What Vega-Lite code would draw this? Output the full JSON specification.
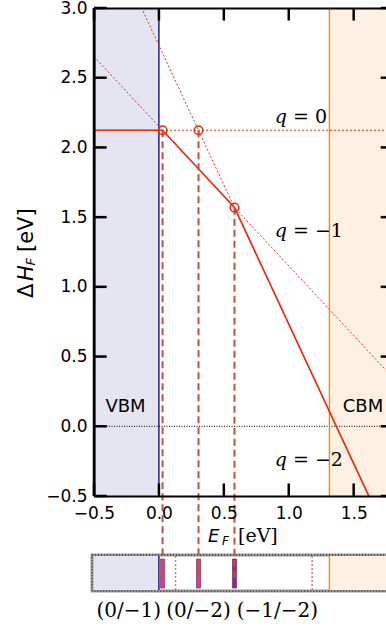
{
  "$schema": "https://vega.github.io/schema/vega-lite/v6.json",
  "autosize": {"type": "none"},
  "padding": {"left": 94, "top": 8, "right": 0, "bottom": 131},
  "width": 292,
  "height": 488,
  "background": "white",
  "config": {"view": {"stroke": null}},
  "resolve": {"scale": {"color": "independent", "fill": "independent", "stroke": "independent"}, "axis": {"x": "independent", "y": "independent"}},
  "datasets": {
    "bands": [{"edge": "VBM", "x": -0.5, "x2": 0.0}, {"edge": "CBM", "x": 1.313, "x2": 1.8}],
    "edges": [{"edge": "VBM", "Ef": 0.0}, {"edge": "CBM", "Ef": 1.313}],
    "charge": [
      {"q": "0", "Ef": -0.5, "E": 2.123}, {"q": "0", "Ef": 1.8, "E": 2.123},
      {"q": "-1", "Ef": -0.5, "E": 2.651}, {"q": "-1", "Ef": 1.8, "E": 0.351},
      {"q": "-2", "Ef": -0.5, "E": 3.732}, {"q": "-2", "Ef": 1.8, "E": -0.868}
    ],
    "envelope": [{"Ef": -0.5, "E": 2.123}, {"Ef": 0.028, "E": 2.123}, {"Ef": 0.582, "E": 1.569}, {"Ef": 1.8, "E": -0.867}],
    "transitions": [
      {"label": "(0/−1)", "Ef": 0.028, "E": 2.123},
      {"label": "(0/−2)", "Ef": 0.305, "E": 2.123},
      {"label": "(−1/−2)", "Ef": 0.582, "E": 1.568}
    ],
    "others": [{"Ef": 0.128}, {"Ef": 1.18}],
    "xticks": [{"v": -0.5}, {"v": 0}, {"v": 0.5}, {"v": 1.0}, {"v": 1.5}],
    "yticks": [{"v": -0.5}, {"v": 0}, {"v": 0.5}, {"v": 1.0}, {"v": 1.5}, {"v": 2.0}, {"v": 2.5}, {"v": 3.0}],
    "frame": [{"side": "left"}]
  },
  "layer": [
    {
      "data": {"name": "bands"},
      "mark": {"type": "rect", "clip": true},
      "encoding": {
        "x": {"field": "x", "type": "quantitative",
          "scale": {"domain": [-0.5, 1.749], "nice": false, "zero": false},
          "axis": {"orient": "bottom", "zindex": 1, "values": [-0.5, 0, 0.5, 1, 1.5], "format": ".1f", "title": null, "grid": false, "ticks": false,
            "domainColor": "black", "domainWidth": 2,
            "labelPadding": 9, "labelFont": "DejaVu Sans", "labelFontSize": 17, "labelColor": "black", "labelFlush": false, "labelOverlap": false}},
        "x2": {"field": "x2"},
        "y": {"datum": -0.5, "type": "quantitative",
          "scale": {"domain": [-0.5, 3.0], "nice": false, "zero": false},
          "axis": {"orient": "left", "zindex": 1, "values": [-0.5, 0, 0.5, 1, 1.5, 2, 2.5, 3], "format": ".1f", "title": null, "grid": false, "ticks": false,
            "domainColor": "black", "domainWidth": 2,
            "labelPadding": 7, "labelFont": "DejaVu Sans", "labelFontSize": 17, "labelColor": "black", "labelFlush": false, "labelOverlap": false}},
        "y2": {"datum": 3.0},
        "fill": {"field": "edge", "type": "nominal", "scale": {"domain": ["VBM", "CBM"], "range": ["#e5e5f1", "#fef0e2"]}, "legend": null}
      }
    },
    {
      "data": {"values": [{"level": 0}]},
      "mark": {"type": "rule", "color": "black", "strokeWidth": 1, "strokeDash": [1, 1.5], "clip": true},
      "encoding": {
        "x": {"datum": -0.5, "type": "quantitative",
          "axis": {"orient": "top", "zindex": 1, "labels": false, "ticks": false, "title": null, "grid": false,
            "domainColor": "black", "domainWidth": 2}},
        "x2": {"datum": 1.8},
        "y": {"field": "level", "type": "quantitative",
          "axis": {"orient": "right", "zindex": 1, "labels": false, "ticks": false, "title": null, "grid": false, "offset": 7,
            "domainColor": "black", "domainWidth": 2}}
      }
    },
    {
      "data": {"name": "edges"},
      "mark": {"type": "rule", "strokeWidth": 1.4, "clip": true},
      "encoding": {
        "x": {"field": "Ef", "type": "quantitative", "axis": null},
        "y": {"datum": -0.5, "type": "quantitative", "axis": null},
        "y2": {"datum": 3.0},
        "stroke": {"field": "edge", "type": "nominal", "scale": {"domain": ["VBM", "CBM"], "range": ["#10107a", "#ff8c00"]}, "legend": null}
      }
    },
    {
      "data": {"name": "charge"},
      "mark": {"type": "line", "color": "#e8321a", "strokeWidth": 1, "strokeDash": [2, 2], "clip": true},
      "encoding": {
        "x": {"field": "Ef", "type": "quantitative", "axis": null},
        "y": {"field": "E", "type": "quantitative", "axis": null},
        "detail": {"field": "q", "type": "nominal"}
      }
    },
    {
      "data": {"name": "envelope"},
      "mark": {"type": "line", "color": "#e8290b", "strokeWidth": 1.6, "clip": true},
      "encoding": {
        "x": {"field": "Ef", "type": "quantitative", "axis": null},
        "y": {"field": "E", "type": "quantitative", "axis": null}
      }
    },
    {
      "data": {"values": [{"strip": "Fermi level window"}]},
      "mark": {"type": "rect", "fill": "white", "stroke": "#9a9a9a", "strokeWidth": 3, "clip": false},
      "encoding": {
        "x": {"datum": -0.515, "type": "quantitative", "axis": null},
        "x2": {"datum": 1.9},
        "y": {"datum": -0.923, "type": "quantitative", "axis": null},
        "y2": {"datum": -1.182}
      }
    },
    {
      "data": {"name": "bands"},
      "mark": {"type": "rect", "clip": false},
      "encoding": {
        "x": {"field": "x", "type": "quantitative", "axis": null},
        "x2": {"field": "x2"},
        "y": {"datum": -0.93, "type": "quantitative", "axis": null},
        "y2": {"datum": -1.175},
        "fill": {"field": "edge", "type": "nominal", "scale": {"domain": ["VBM", "CBM"], "range": ["#e5e5f1", "#fef0e2"]}, "legend": null}
      }
    },
    {
      "data": {"values": [{"strip": "border"}]},
      "mark": {"type": "rect", "fill": null, "stroke": "black", "strokeWidth": 1, "strokeDash": [1, 2], "clip": false},
      "encoding": {
        "x": {"datum": -0.515, "type": "quantitative", "axis": null},
        "x2": {"datum": 1.9},
        "y": {"datum": -0.923, "type": "quantitative", "axis": null},
        "y2": {"datum": -1.182}
      }
    },
    {
      "data": {"name": "edges"},
      "mark": {"type": "rule", "strokeWidth": 1.4, "clip": false},
      "encoding": {
        "x": {"field": "Ef", "type": "quantitative", "axis": null},
        "y": {"datum": -0.93, "type": "quantitative", "axis": null},
        "y2": {"datum": -1.175},
        "stroke": {"field": "edge", "type": "nominal", "scale": {"domain": ["VBM", "CBM"], "range": ["#10107a", "#ff8c00"]}, "legend": null}
      }
    },
    {
      "data": {"name": "others"},
      "mark": {"type": "rule", "color": "#d47a7a", "strokeWidth": 1.5, "strokeDash": [2, 2], "clip": false},
      "encoding": {
        "x": {"field": "Ef", "type": "quantitative", "axis": null},
        "y": {"datum": -0.93, "type": "quantitative", "axis": null},
        "y2": {"datum": -1.175}
      }
    },
    {
      "data": {"name": "transitions"},
      "mark": {"type": "tick", "orient": "vertical", "size": 29, "thickness": 4, "opacity": 1, "stroke": "#6a1a50", "strokeWidth": 0.6, "clip": false},
      "encoding": {
        "x": {"field": "Ef", "type": "quantitative", "axis": null},
        "y": {"datum": -1.056, "type": "quantitative", "axis": null},
        "color": {"field": "label", "type": "nominal", "scale": {"domain": ["(0/−1)", "(0/−2)", "(−1/−2)"], "range": ["#d4448c", "#d4448c", "#8a2a7e"]}, "legend": null}
      }
    },
    {
      "data": {"name": "transitions"},
      "mark": {"type": "rule", "color": "#c4503c", "strokeWidth": 2, "strokeDash": [7, 4], "clip": false},
      "encoding": {
        "x": {"field": "Ef", "type": "quantitative", "axis": null},
        "y": {"field": "E", "type": "quantitative", "axis": null},
        "y2": {"datum": -1.088}
      }
    },
    {
      "data": {"name": "transitions"},
      "mark": {"type": "point", "filled": false, "stroke": "#e8290b", "strokeWidth": 1.5, "size": 75, "opacity": 1, "clip": false},
      "encoding": {
        "x": {"field": "Ef", "type": "quantitative", "axis": null},
        "y": {"field": "E", "type": "quantitative", "axis": null}
      }
    },
    {
      "data": {"values": [{"t": "VBM"}]},
      "mark": {"type": "text", "font": "DejaVu Sans", "fontSize": 18, "align": "center", "baseline": "alphabetic", "color": "black"},
      "encoding": {"x": {"datum": -0.257, "type": "quantitative", "axis": null}, "y": {"datum": 0.105, "type": "quantitative", "axis": null}, "text": {"field": "t"}}
    },
    {
      "data": {"values": [{"t": "CBM"}]},
      "mark": {"type": "text", "font": "DejaVu Sans", "fontSize": 18, "align": "center", "baseline": "alphabetic", "color": "black"},
      "encoding": {"x": {"datum": 1.572, "type": "quantitative", "axis": null}, "y": {"datum": 0.105, "type": "quantitative", "axis": null}, "text": {"field": "t"}}
    },
    {
      "data": {"values": [{"t": "q"}]},
      "mark": {"type": "text", "font": "DejaVu Serif", "fontSize": 19, "fontStyle": "italic", "align": "right", "baseline": "alphabetic", "color": "black"},
      "encoding": {"x": {"datum": 0.986, "type": "quantitative", "axis": null}, "y": {"datum": 2.175, "type": "quantitative", "axis": null}, "text": {"field": "t"}}
    },
    {
      "data": {"values": [{"t": "= 0"}]},
      "mark": {"type": "text", "font": "DejaVu Serif", "fontSize": 19, "align": "left", "dx": 6, "baseline": "alphabetic", "color": "black"},
      "encoding": {"x": {"datum": 0.986, "type": "quantitative", "axis": null}, "y": {"datum": 2.175, "type": "quantitative", "axis": null}, "text": {"field": "t"}}
    },
    {
      "data": {"values": [{"t": "q"}]},
      "mark": {"type": "text", "font": "DejaVu Serif", "fontSize": 19, "fontStyle": "italic", "align": "right", "baseline": "alphabetic", "color": "black"},
      "encoding": {"x": {"datum": 0.986, "type": "quantitative", "axis": null}, "y": {"datum": 1.36, "type": "quantitative", "axis": null}, "text": {"field": "t"}}
    },
    {
      "data": {"values": [{"t": "= −1"}]},
      "mark": {"type": "text", "font": "DejaVu Serif", "fontSize": 19, "align": "left", "dx": 6, "baseline": "alphabetic", "color": "black"},
      "encoding": {"x": {"datum": 0.986, "type": "quantitative", "axis": null}, "y": {"datum": 1.36, "type": "quantitative", "axis": null}, "text": {"field": "t"}}
    },
    {
      "data": {"values": [{"t": "q"}]},
      "mark": {"type": "text", "font": "DejaVu Serif", "fontSize": 19, "fontStyle": "italic", "align": "right", "baseline": "alphabetic", "color": "black"},
      "encoding": {"x": {"datum": 0.986, "type": "quantitative", "axis": null}, "y": {"datum": -0.285, "type": "quantitative", "axis": null}, "text": {"field": "t"}}
    },
    {
      "data": {"values": [{"t": "= −2"}]},
      "mark": {"type": "text", "font": "DejaVu Serif", "fontSize": 19, "align": "left", "dx": 6, "baseline": "alphabetic", "color": "black"},
      "encoding": {"x": {"datum": 0.986, "type": "quantitative", "axis": null}, "y": {"datum": -0.285, "type": "quantitative", "axis": null}, "text": {"field": "t"}}
    },
    {
      "data": {"values": [{"t": "(0/−1)"}]},
      "mark": {"type": "text", "font": "DejaVu Serif", "fontSize": 20, "align": "center", "baseline": "alphabetic", "color": "black"},
      "encoding": {"x": {"datum": -0.233, "type": "quantitative", "axis": null}, "y": {"datum": -1.368, "type": "quantitative", "axis": null}, "text": {"field": "t"}}
    },
    {
      "data": {"values": [{"t": "(0/−2)"}]},
      "mark": {"type": "text", "font": "DejaVu Serif", "fontSize": 20, "align": "center", "baseline": "alphabetic", "color": "black"},
      "encoding": {"x": {"datum": 0.305, "type": "quantitative", "axis": null}, "y": {"datum": -1.368, "type": "quantitative", "axis": null}, "text": {"field": "t"}}
    },
    {
      "data": {"values": [{"t": "(−1/−2)"}]},
      "mark": {"type": "text", "font": "DejaVu Serif", "fontSize": 20, "align": "center", "baseline": "alphabetic", "color": "black"},
      "encoding": {"x": {"datum": 0.913, "type": "quantitative", "axis": null}, "y": {"datum": -1.368, "type": "quantitative", "axis": null}, "text": {"field": "t"}}
    },
    {
      "data": {"values": [{"t": "E"}]},
      "mark": {"type": "text", "font": "DejaVu Sans", "fontSize": 18, "fontStyle": "italic", "align": "left", "baseline": "alphabetic", "color": "black"},
      "encoding": {"x": {"datum": 0.378, "type": "quantitative", "axis": null}, "y": {"datum": -0.83, "type": "quantitative", "axis": null}, "text": {"field": "t"}}
    },
    {
      "data": {"values": [{"t": "F"}]},
      "mark": {"type": "text", "font": "DejaVu Sans", "fontSize": 12, "fontStyle": "italic", "align": "left", "baseline": "alphabetic", "color": "black"},
      "encoding": {"x": {"datum": 0.486, "type": "quantitative", "axis": null}, "y": {"datum": -0.852, "type": "quantitative", "axis": null}, "text": {"field": "t"}}
    },
    {
      "data": {"values": [{"t": "[eV]"}]},
      "mark": {"type": "text", "font": "DejaVu Serif", "fontSize": 19, "align": "left", "baseline": "alphabetic", "color": "black"},
      "encoding": {"x": {"datum": 0.609, "type": "quantitative", "axis": null}, "y": {"datum": -0.83, "type": "quantitative", "axis": null}, "text": {"field": "t"}}
    },
    {
      "data": {"values": [{"t": "Δ"}]},
      "mark": {"type": "text", "font": "DejaVu Sans", "fontSize": 21, "angle": 270, "align": "left", "baseline": "alphabetic", "color": "black"},
      "encoding": {"x": {"datum": -0.97, "type": "quantitative", "axis": null}, "y": {"datum": 0.92, "type": "quantitative", "axis": null}, "text": {"field": "t"}}
    },
    {
      "data": {"values": [{"t": "H"}]},
      "mark": {"type": "text", "font": "DejaVu Sans", "fontSize": 21, "fontStyle": "italic", "angle": 270, "align": "left", "baseline": "alphabetic", "color": "black"},
      "encoding": {"x": {"datum": -0.97, "type": "quantitative", "axis": null}, "y": {"datum": 1.042, "type": "quantitative", "axis": null}, "text": {"field": "t"}}
    },
    {
      "data": {"values": [{"t": "F"}]},
      "mark": {"type": "text", "font": "DejaVu Sans", "fontSize": 13, "fontStyle": "italic", "angle": 270, "align": "left", "baseline": "alphabetic", "color": "black"},
      "encoding": {"x": {"datum": -0.951, "type": "quantitative", "axis": null}, "y": {"datum": 1.153, "type": "quantitative", "axis": null}, "text": {"field": "t"}}
    },
    {
      "data": {"values": [{"t": "[eV]"}]},
      "mark": {"type": "text", "font": "DejaVu Sans", "fontSize": 21, "angle": 270, "align": "left", "baseline": "alphabetic", "color": "black"},
      "encoding": {"x": {"datum": -0.97, "type": "quantitative", "axis": null}, "y": {"datum": 1.25, "type": "quantitative", "axis": null}, "text": {"field": "t"}}
    },
    {
      "data": {"name": "frame"},
      "mark": {"type": "rule", "color": "black", "strokeWidth": 2.5, "clip": false},
      "encoding": {
        "x": {"datum": -0.5, "type": "quantitative", "axis": null},
        "y": {"datum": -0.5, "type": "quantitative", "axis": null},
        "y2": {"datum": 3.0}
      }
    },
    {
      "data": {"name": "xticks"},
      "mark": {"type": "rule", "color": "black", "strokeWidth": 2.5, "opacity": 1, "clip": false},
      "encoding": {
        "x": {"field": "v", "type": "quantitative", "axis": null},
        "y": {"datum": -0.5, "type": "quantitative", "axis": null},
        "y2": {"datum": -0.41}
      }
    },
    {
      "data": {"name": "xticks"},
      "mark": {"type": "rule", "color": "black", "strokeWidth": 2.5, "opacity": 1, "clip": false},
      "encoding": {
        "x": {"field": "v", "type": "quantitative", "axis": null},
        "y": {"datum": 3.0, "type": "quantitative", "axis": null},
        "y2": {"datum": 2.91}
      }
    },
    {
      "data": {"name": "yticks"},
      "mark": {"type": "rule", "color": "black", "strokeWidth": 2.5, "opacity": 1, "clip": false},
      "encoding": {
        "y": {"field": "v", "type": "quantitative", "axis": null},
        "x": {"datum": -0.5, "type": "quantitative", "axis": null},
        "x2": {"datum": -0.402}
      }
    },
    {
      "data": {"name": "yticks"},
      "mark": {"type": "rule", "color": "black", "strokeWidth": 2.5, "opacity": 1, "clip": false},
      "encoding": {
        "y": {"field": "v", "type": "quantitative", "axis": null},
        "x": {"datum": 1.803, "type": "quantitative", "axis": null},
        "x2": {"datum": 1.708}
      }
    }
  ]
}
